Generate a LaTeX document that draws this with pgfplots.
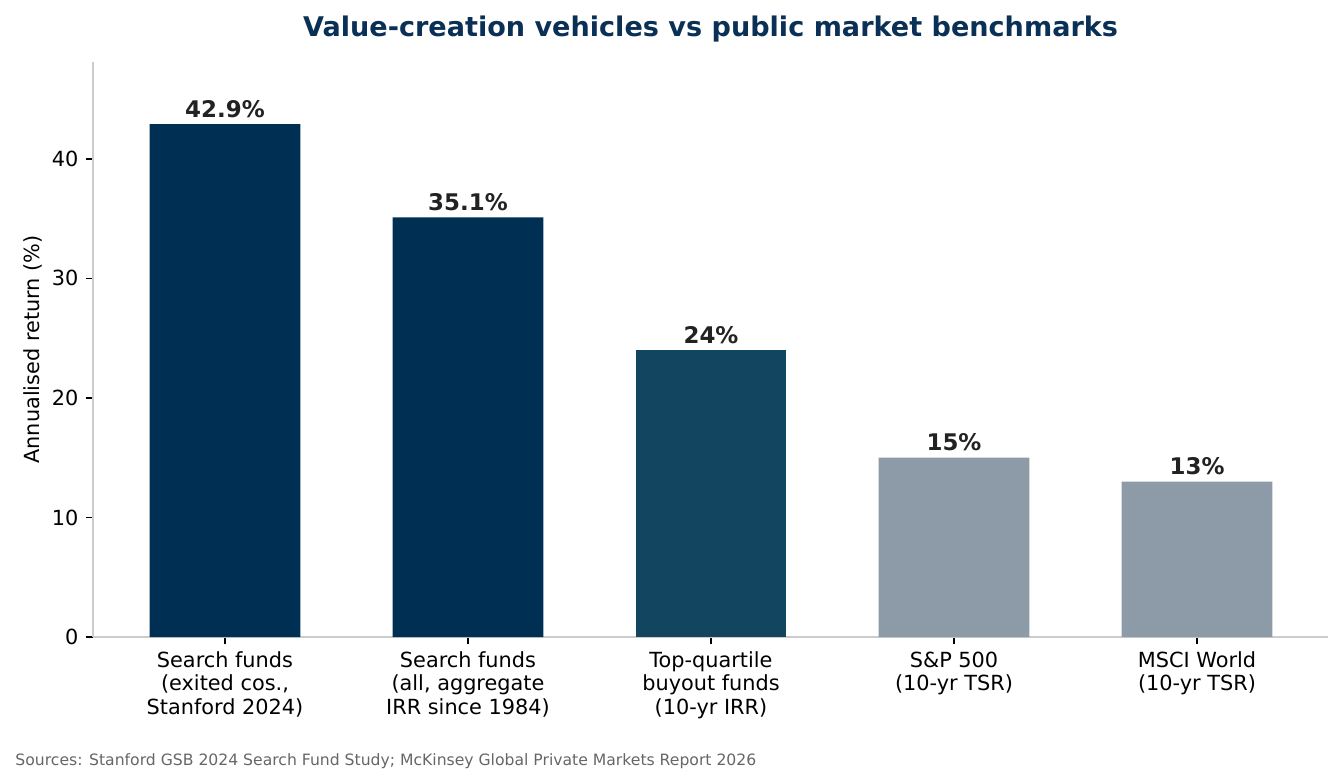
\documentclass[border=0pt]{standalone}
\usepackage{fontspec}
\setmainfont{DejaVu Sans}
\usepackage{pgfplots}
\usepackage{pgfplotstable}
\pgfplotsset{compat=1.18}
\definecolor{navy}{HTML}{002F54}
\definecolor{tealc}{HTML}{12455F}
\definecolor{slate}{HTML}{8C9BA7}
\definecolor{titlec}{HTML}{0A3155}
\definecolor{spine}{HTML}{CCCCCC}
\definecolor{lab}{HTML}{222222}
\definecolor{src}{HTML}{666666}

\pgfplotstableread{
x y lab
0 42.9 42.9\%
1 35.1 35.1\%
}\navydata
\pgfplotstableread{
x y lab
2 24 24\%
}\tealdata
\pgfplotstableread{
x y lab
3 15 15\%
4 13 13\%
}\slatedata

\begin{document}
\begin{tikzpicture}
\useasboundingbox (-44.64pt,-69.6pt) rectangle (600pt,305.76pt);
\begin{axis}[
  scale only axis,
  width=592.8pt, height=276pt,
  xmin=-0.543, xmax=4.539,
  ymin=0, ymax=48.1,
  axis x line*=bottom, axis y line*=left,
  axis line style={spine, line width=0.8pt},
  tick align=outside,
  major tick length=3.5pt,
  tick style={black, line width=0.8pt},
  xtick={0,1,2,3,4},
  xticklabels={{Search funds\\(exited cos.,\\Stanford 2024)},{Search funds\\(all, aggregate\\IRR since 1984)},{Top-quartile\\buyout funds\\(10-yr IRR)},{S\&P 500\\(10-yr TSR)},{MSCI World\\(10-yr TSR)}},
  xticklabel style={align=center, font=\fontsize{10}{11.2}\selectfont, anchor=north},
  ytick={0,10,20,30,40},
  yticklabel style={font=\fontsize{10}{12}\selectfont},
  /pgf/number format/assume math mode=true,
  ylabel={Annualised return (\%)},
  ylabel style={font=\fontsize{10}{12}\selectfont, at={(axis description cs:-0.0486,0.5)}, anchor=center},
  title={Value-creation vehicles vs public market benchmarks},
  title style={font=\fontsize{13}{15}\selectfont\bfseries, color=titlec, at={(axis description cs:0.5,1)}, anchor=base, yshift=6.3pt},
  ybar, bar width=0.62, bar shift=0pt,
  point meta=explicit symbolic,
  nodes near coords,
  every node near coord/.append style={font=\fontsize{11}{13}\selectfont\bfseries, color=lab, anchor=south, inner sep=0pt, yshift=2.9pt},
]
\addplot[fill=navy, draw=none] table[x=x, y=y, meta=lab] {\navydata};
\addplot[fill=tealc, draw=none] table[x=x, y=y, meta=lab] {\tealdata};
\addplot[fill=slate, draw=none] table[x=x, y=y, meta=lab] {\slatedata};
\end{axis}
\node[anchor=base west, font=\fontsize{7.5}{9}\selectfont, text=src, inner sep=0pt] at (-37.4pt,-61.9pt) {Sources: Stanford GSB 2024 Search Fund Study; McKinsey Global Private Markets Report 2026};
\end{tikzpicture}
\end{document}
